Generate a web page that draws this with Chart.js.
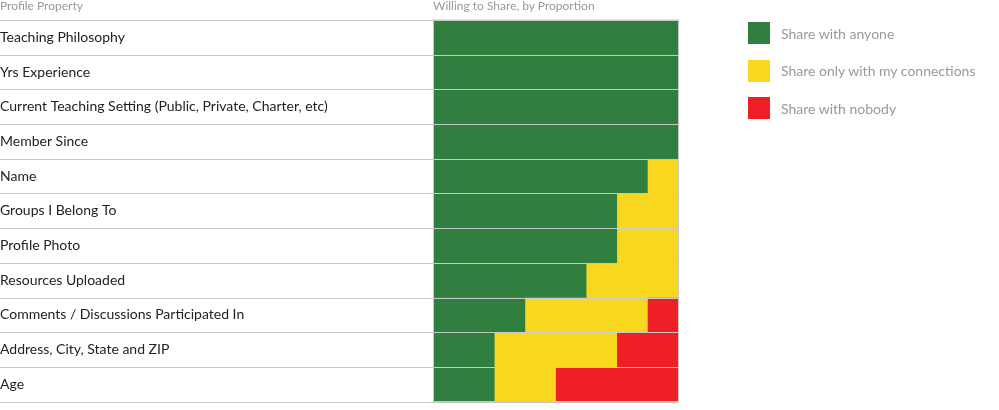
<!DOCTYPE html>
<html lang="en">
<head>
<meta charset="UTF-8">
<title>Profile Sharing</title>
<script src="https://cdn.jsdelivr.net/npm/chart.js"></script>
<style>
  body { margin: 0; font-family: Lato, "Open Sans", sans-serif; }
  #wrap { position: relative; width: 999px; height: 410px; }
  .hdr { position: absolute; top: -2px; font-size: 12px; color: #999; }
  #legend { position: absolute; left: 748px; top: 22px; }
  .item { display: flex; align-items: center; height: 22px; margin-bottom: 15.5px; font-size: 14px; color: #999; }
  .sw { width: 22px; height: 22px; margin-right: 11px; }
</style>
</head>
<body>
<div id="wrap">
  <canvas id="c" width="999" height="410"></canvas>
  <div class="hdr" style="left:0">Profile Property</div>
  <div class="hdr" style="left:433px">Willing to Share, by Proportion</div>
  <div id="legend"></div>
</div>
<script>
// data
const properties = ['Teaching Philosophy', 'Yrs Experience', 'Current Teaching Setting (Public, Private, Charter, etc)',
  'Member Since', 'Name', 'Groups I Belong To', 'Profile Photo', 'Resources Uploaded',
  'Comments / Discussions Participated In', 'Address, City, State and ZIP', 'Age'];
const anyone      = [100, 100, 100, 100, 87.5, 75, 75, 62.5, 37.5, 25, 25];
const connections = [0, 0, 0, 0, 12.5, 25, 25, 37.5, 50, 50, 25];
const nobody      = [0, 0, 0, 0, 0, 0, 0, 0, 12.5, 25, 50];
const seriesNames = ['Share with anyone', 'Share only with my connections', 'Share with nobody'];
const colors = ['#317f3e', '#f9d71e', '#ee1f25'];

const legend = document.getElementById('legend');
seriesNames.forEach((n, i) => {
  legend.innerHTML += '<div class="item"><div class="sw" style="background:' + colors[i] + '"></div>' + n + '</div>';
});

// row separators across the label column and bars
const rowLines = {
  id: 'rowLines',
  afterDatasetsDraw(chart) {
    const ctx = chart.ctx, y = chart.scales.y, a = chart.chartArea;
    ctx.save();
    ctx.strokeStyle = '#c8c8c8';
    ctx.lineWidth = 1;
    for (let i = 0; i <= properties.length; i++) {
      const py = Math.round(y.getPixelForValue(i - 0.5)) + 0.5;
      ctx.beginPath();
      ctx.moveTo(0, py);
      ctx.lineTo(a.right, py);
      ctx.stroke();
    }
    ctx.strokeRect(Math.round(a.left) + 0.5, a.top, a.right - a.left, a.bottom - a.top);
    ctx.restore();
  }
};

const ds = [anyone, connections, nobody].map((d, i) => ({
  label: seriesNames[i], data: d, backgroundColor: colors[i],
  barPercentage: 1, categoryPercentage: 1, borderWidth: 0
}));

new Chart(document.getElementById('c'), {
  type: 'bar',
  data: { labels: properties, datasets: ds },
  options: {
    indexAxis: 'y',
    responsive: false,
    animation: false,
    layout: { padding: { top: 20, right: 321, bottom: 2, left: 0 } },
    plugins: { legend: { display: false }, tooltip: { enabled: false } },
    scales: {
      x: { stacked: true, min: 0, max: 100, display: false },
      y: {
        stacked: true,
        grid: { display: false },
        border: { display: false },
        afterFit(s) { s.width = 433; },
        ticks: { crossAlign: 'far', color: '#222', padding: 0,
          font: { family: 'Lato, "Open Sans", sans-serif', size: 14 } }
      }
    }
  },
  plugins: [rowLines]
});
</script>
</body>
</html>
